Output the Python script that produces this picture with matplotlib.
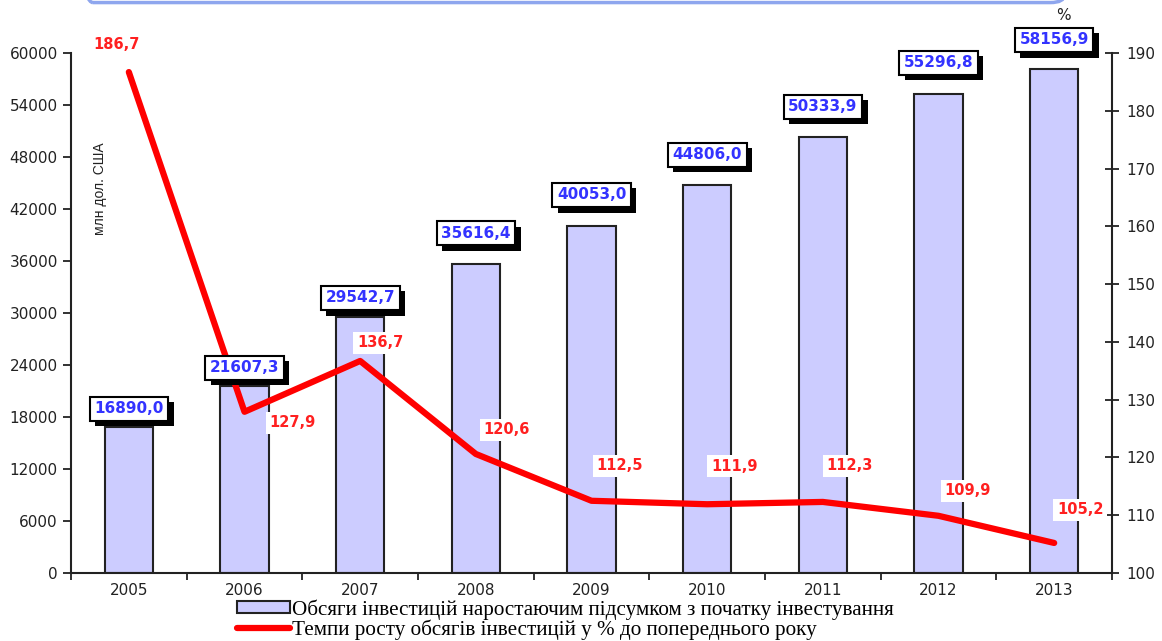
import matplotlib.pyplot as plt
import matplotlib.patheffects as pe
from matplotlib.patches import FancyBboxPatch

years = ['2005', '2006', '2007', '2008', '2009', '2010', '2011', '2012', '2013']
volumes = [16890.0, 21607.3, 29542.7, 35616.4, 40053.0, 44806.0, 50333.9, 55296.8, 58156.9]
growth = [186.7, 127.9, 136.7, 120.6, 112.5, 111.9, 112.3, 109.9, 105.2]
bar_name = 'Обсяги інвестицій наростаючим підсумком з початку інвестування'
line_name = 'Темпи росту обсягів інвестицій у % до попереднього року'

# label offsets in pixels
bar_off = [18, 18, 19, 31, 31, 30, 30, 31, 29]
line_off = [(-12, 28), (48, -11), (20, 18), (31, 24), (28, 35), (27, 38), (27, 36), (29, 25), (26, 33)]

def fmt(v):
    return ('%.1f' % v).replace('.', ',')

plt.rcParams['font.family'] = ['DejaVu Sans']

fig = plt.figure(figsize=(11.62, 6.41), dpi=100)
ax = fig.add_axes([71/1162, 68/641, 1041/1162, 520/641])
ax2 = ax.twinx()

x = list(range(len(years)))
bars = ax.bar(x, volumes, width=0.42, color='#CCCCFF', edgecolor='#222222', linewidth=1.5, zorder=2,
              label=bar_name)
ax.set_xlim(-0.5, 8.5)
ax.set_ylim(0, 60000)
ax.set_yticks(range(0, 60001, 6000))
ax.set_xticks(x)
ax.set_xticklabels(years)
ax.set_xticks([i - 0.5 for i in range(10)], minor=True)
ax.tick_params(axis='x', which='major', length=0, labelsize=11, pad=7, colors='#222222')
ax.tick_params(axis='x', which='minor', length=5, width=1.3, direction='out', colors='#222222')
ax.tick_params(axis='y', length=6, width=1.3, direction='out', labelsize=11, colors='#222222')
for s in ['top', 'right']:
    ax.spines[s].set_visible(False)
for s in ['left', 'bottom']:
    ax.spines[s].set_linewidth(1.5)
    ax.spines[s].set_color('#222222')

line, = ax2.plot(x, growth, color='#FF0000', linewidth=4.5, solid_joinstyle='round',
                 solid_capstyle='round', zorder=3, label=line_name)
ax2.set_ylim(100, 190)
ax2.set_yticks(range(100, 191, 10))
ax2.tick_params(axis='y', length=10, width=1.3, direction='inout', labelsize=11, colors='#222222', pad=5)
for s in ['top', 'left', 'bottom']:
    ax2.spines[s].set_visible(False)
ax2.spines['right'].set_linewidth(1.5)
ax2.spines['right'].set_color('#222222')

# value labels on bars, box with black shadow
for i, v in enumerate(volumes):
    t = ax2.annotate(fmt(v), xy=(i, v / 60000 * 90 + 100), xytext=(0, bar_off[i]),
                     textcoords='offset pixels', ha='center', va='center', fontsize=11,
                     fontweight='bold', color='#3333FF', zorder=6,
                     bbox=dict(boxstyle='square,pad=0.3', facecolor='white', edgecolor='black', linewidth=1.5))
    t.get_bbox_patch().set_path_effects([
        pe.SimplePatchShadow(offset=(4, -4), shadow_rgbFace='black', alpha=1.0), pe.Normal()])

# labels on the line
for i, v in enumerate(growth):
    ax2.annotate(fmt(v), xy=(i, v), xytext=line_off[i], textcoords='offset pixels',
                 ha='center', va='center', fontsize=10.5, fontweight='bold', color='#FF2020', zorder=4,
                 bbox=dict(boxstyle='square,pad=0.25', facecolor='white', edgecolor='none'))

ax.text(0.028, 0.74, 'млн дол. США', transform=ax.transAxes, rotation=90, fontsize=10,
        family='Liberation Sans', ha='center', va='center', color='#222222')
fig.text(1063/1162, 1 - 15/641, '%', ha='center', va='center', fontsize=11, color='#222222')

# top border of the panel
fig.patches.append(FancyBboxPatch((0.068, 0.996), 0.848, 0.2, boxstyle='round,pad=0,rounding_size=0.012',
                                  transform=fig.transFigure, facecolor='none', edgecolor='#8EA6EE',
                                  linewidth=2.5, clip_on=False))

fig.legend(handles=[bars, line], labels=[bar_name, line_name], loc='upper left',
           bbox_to_anchor=(237/1162, 1 - 599/641), frameon=False,
           prop={'family': 'Liberation Serif', 'size': 15.2}, handlelength=2.5, handleheight=0.5,
           handletextpad=0.1, labelspacing=0.0, borderpad=0, borderaxespad=0)

fig.savefig('out.png', dpi=100)
